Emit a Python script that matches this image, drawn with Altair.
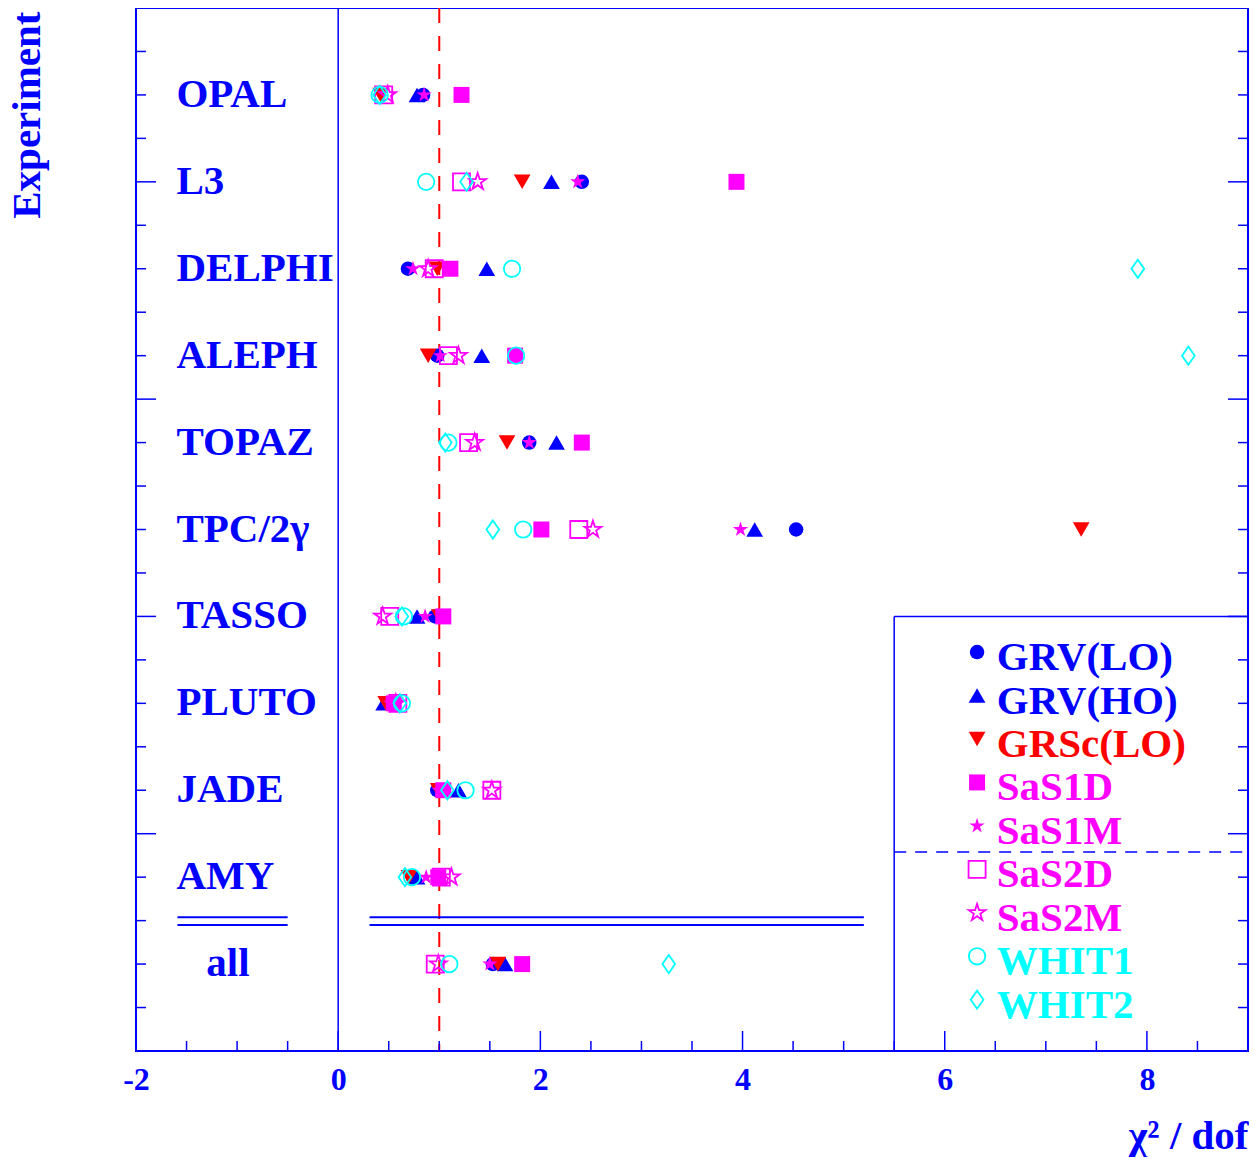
import altair as alt
import pandas as pd

FONT = "Liberation Serif"
BLUE = "#0000ff"
RED = "#ff0000"
MAG = "#ff00ff"
CYAN = "#00ffff"

# ---------------- data ----------------
experiments = ["OPAL", "L3", "DELPHI", "ALEPH", "TOPAZ", "TPC/2γ",
               "TASSO", "PLUTO", "JADE", "AMY", "all"]
models = ["GRV(LO)", "GRV(HO)", "GRSc(LO)", "SaS1D", "SaS1M",
          "SaS2D", "SaS2M", "WHIT1", "WHIT2"]

grv_lo = [0.84, 2.41, 0.69, 0.98, 1.89, 4.53, 0.96, 0.50, 0.98, 0.74, 1.53]
grv_ho = [0.78, 2.11, 1.47, 1.42, 2.16, 4.12, 0.78, 0.45, 1.19, 0.78, 1.65]
grsc_lo = [0.42, 1.82, 0.98, 0.89, 1.67, 7.35, 1.00, 0.47, 0.99, 0.70, 1.58]
sas1d = [1.22, 3.94, 1.11, 1.75, 2.41, 2.01, 1.04, 0.55, 1.04, 0.99, 1.82]
sas1m = [0.85, 2.37, 0.74, 1.01, 1.89, 3.98, 0.86, 0.52, 1.00, 0.87, 1.50]
sas2d = [0.45, 1.22, 0.95, 1.09, 1.29, 2.38, 0.51, 0.59, 1.52, 1.02, 0.96]
sas2m = [0.49, 1.38, 0.89, 1.19, 1.35, 2.52, 0.44, 0.57, 1.52, 1.12, 0.99]
whit1 = [0.41, 0.87, 1.72, 1.76, 1.09, 1.83, 0.65, 0.63, 1.26, 0.73, 1.10]
whit2 = [0.41, 1.27, 7.91, 8.41, 1.06, 1.53, 0.63, 0.61, 1.08, 0.66, 3.27]

series = [grv_lo, grv_ho, grsc_lo, sas1d, sas1m, sas2d, sas2m, whit1, whit2]

x_major = [-2, 0, 2, 4, 6, 8]
x_minor = [-1.5, -1, -0.5, 0.5, 1, 1.5, 2.5, 3, 3.5, 4.5, 5, 5.5, 6.5, 7, 7.5, 8.5]
y_major = [2, 4.5, 7, 9.5]
y_minor = [0.5, 1, 1.5, 2.5, 3, 3.5, 4, 5, 5.5, 6, 6.5, 7.5, 8, 8.5, 9, 10, 10.5, 11, 11.5]

# ---------------- styles ----------------
STAR = ("M0,-1L0.2245,-0.309L0.9511,-0.309L0.3633,0.118L0.5878,0.809L0,0.382"
        "L-0.5878,0.809L-0.3633,0.118L-0.9511,-0.309L-0.2245,-0.309Z")
DIAMOND = "M0,-1L0.7,0L0,1L-0.7,0Z"

model_colors = [BLUE, BLUE, RED, MAG, MAG, MAG, MAG, CYAN, CYAN]
model_shapes = ["circle", "triangle-up", "triangle-down", "square", STAR,
                "square", STAR, "circle", DIAMOND]
model_filled = [True, True, True, True, True, False, False, False, False]
model_sizes = [210, 280, 280, 256, 260, 290, 310, 270, 330]

W, H = 1112, 1043

rows = []
for m, vals in zip(models, series):
    for i, (e, v) in enumerate(zip(experiments, vals)):
        rows.append({"model": m, "exp": e, "row": i + 1, "chi2": v})
df = pd.DataFrame(rows)

xscale = alt.Scale(domain=[-2, 9], nice=False, zero=False)
yscale = alt.Scale(domain=[0, 12], nice=False, zero=False, reverse=True)

xaxis = alt.Axis(values=x_major, ticks=False, tickSize=0, domain=False, grid=False,
                 labelExpr="datum.value < 0 ? '-' + abs(datum.value) : '' + datum.value",
                 labelFont=FONT, labelFontSize=32, labelFontWeight="bold",
                 labelColor=BLUE, labelPadding=13, labelFlush=False,
                 title="χ² / dof", titleFont=FONT, titleFontSize=41,
                 titleFontWeight="bold", titleColor=BLUE, titleAlign="right",
                 titleX=W, titleY=97, titleBaseline="alphabetic")
yaxis = alt.Axis(labels=False, ticks=False, tickSize=0, domain=False, grid=False,
                 title="Experiment", titleFont=FONT, titleFontSize=41,
                 titleFontWeight="bold", titleColor=BLUE, titleAngle=270,
                 titleAlign="right", titleBaseline="middle", titleX=-109, titleY=3)


def X(f):
    return alt.X(f, type="quantitative", scale=xscale, axis=xaxis)


def Y(f):
    return alt.Y(f, type="quantitative", scale=yscale, axis=yaxis)


layers = []

# reference lines
layers.append(alt.Chart(pd.DataFrame({"v": [0]})).mark_rule(color=BLUE, strokeWidth=1.5)
              .encode(x=X("v")))
layers.append(alt.Chart(pd.DataFrame({"v": [1]})).mark_rule(color=RED, strokeWidth=2,
                                                              strokeDash=[15, 13])
              .encode(x=X("v")))

# double separator lines before "all"
sep = pd.DataFrame({"x1": [-1.59, -1.59, 0.31, 0.31], "x2": [-0.5, -0.5, 5.2, 5.2],
                    "y": [10.46, 10.55, 10.46, 10.55]})
layers.append(alt.Chart(sep).mark_rule(color=BLUE, strokeWidth=2)
              .encode(x=X("x1"), x2="x2", y=Y("y")))

# legend box
layers.append(alt.Chart(pd.DataFrame({"x": [5.5], "y1": [7.0], "y2": [12.0]}))
              .mark_rule(color=BLUE, strokeWidth=1.5)
              .encode(x=X("x"), y=Y("y1"), y2="y2"))
layers.append(alt.Chart(pd.DataFrame({"x1": [5.5], "x2": [9.0], "y": [7.0]}))
              .mark_rule(color=BLUE, strokeWidth=1.5)
              .encode(x=X("x1"), x2="x2", y=Y("y")))
layers.append(alt.Chart(pd.DataFrame({"x1": [5.5], "x2": [9.0], "y": [9.71]}))
              .mark_rule(color=BLUE, strokeWidth=1.5, strokeDash=[12, 9])
              .encode(x=X("x1"), x2="x2", y=Y("y")))

# tick marks (inward)
for vals, ln in [(x_major, 20), (x_minor, 10)]:
    layers.append(alt.Chart(pd.DataFrame({"v": vals})).mark_rule(color=BLUE, strokeWidth=1.5)
                  .encode(x=X("v"), y=alt.value(H), y2=alt.value(H - ln)))
for vals, ln in [(y_major, 20), (y_minor, 10)]:
    layers.append(alt.Chart(pd.DataFrame({"v": vals})).mark_rule(color=BLUE, strokeWidth=1.5)
                  .encode(y=Y("v"), x=alt.value(0), x2=alt.value(ln)))
    layers.append(alt.Chart(pd.DataFrame({"v": vals})).mark_rule(color=BLUE, strokeWidth=1.5)
                  .encode(y=Y("v"), x=alt.value(W), x2=alt.value(W - ln)))

# experiment labels
lab = pd.DataFrame({"label": experiments[:-1], "row": list(range(1, len(experiments))),
                    "x": [-1.6] * (len(experiments) - 1)})
layers.append(alt.Chart(lab).mark_text(align="left", baseline="alphabetic", dy=12,
                                       font=FONT, fontSize=41, fontWeight="bold", color=BLUE)
              .encode(x=X("x"), y=Y("row"), text="label:N"))
layers.append(alt.Chart(pd.DataFrame({"label": [experiments[-1]], "row": [len(experiments)],
                                      "x": [-1.09]}))
              .mark_text(align="center", baseline="alphabetic", dy=12,
                         font=FONT, fontSize=41, fontWeight="bold", color=BLUE)
              .encode(x=X("x"), y=Y("row"), text="label:N"))

# data points + legend symbols
leg_y = [7.41 + 0.5 * i for i in range(len(models))]
for i, (m, col, shp, fil, sz) in enumerate(zip(models, model_colors, model_shapes,
                                               model_filled, model_sizes)):
    sub = df[df.model == m]
    mk = dict(shape=shp, filled=fil, color=col, size=sz, opacity=1, strokeWidth=1.8)
    layers.append(alt.Chart(sub).mark_point(**mk).encode(x=X("chi2"), y=Y("row")))
    layers.append(alt.Chart(pd.DataFrame({"x": [6.32], "y": [leg_y[i]]}))
                  .mark_point(**mk).encode(x=X("x"), y=Y("y")))

leg = pd.DataFrame({"model": models, "y": leg_y, "x": [6.515] * len(models)})
layers.append(alt.Chart(leg).mark_text(align="left", baseline="alphabetic", dy=18,
                                       font=FONT, fontSize=41, fontWeight="bold")
              .encode(x=X("x"), y=Y("y"), text="model:N",
                      color=alt.Color("model:N", scale=alt.Scale(domain=models,
                                                                 range=model_colors),
                                      legend=None)))

chart = (alt.layer(*layers)
         .properties(width=W, height=H,
                     autosize=alt.AutoSizeParams(type="none"),
                     padding={"left": 128, "top": 0, "right": 1, "bottom": 106})
         .configure_view(stroke=BLUE, strokeWidth=2))

chart.save("out.html", embed_options={"renderer": "svg", "actions": False})
